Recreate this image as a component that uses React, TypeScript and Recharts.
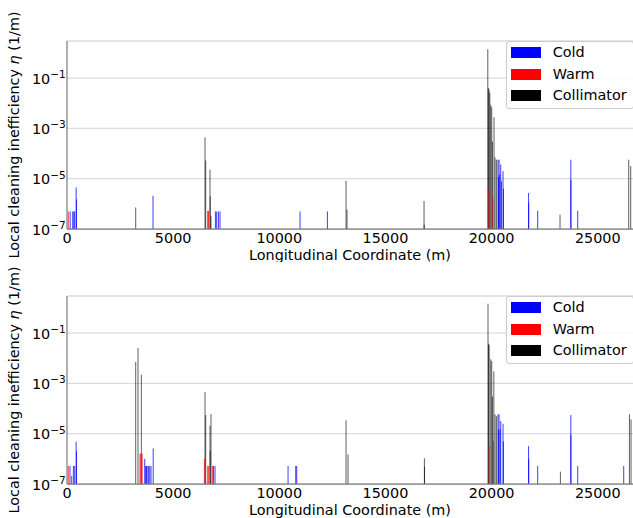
import React from 'react';
import {
  ComposedChart,
  Scatter,
  ErrorBar,
  XAxis,
  YAxis,
  CartesianGrid,
  Legend,
  Label,
} from 'recharts';

const FONT = '"DejaVu Sans", sans-serif';
const FS = 14.4;
const FRAME = '#808080';
const GRID = '#dcdcdc';

const LHC = 26659;
const Y_MIN = 1e-7;
const Y_MAX = 3;

const xTicks = [0, 5000, 10000, 15000, 20000, 25000];
const yTicks = [1e-7, 1e-5, 1e-3, 1e-1];

type Pt = { s: number; v: number };

// ---- Reference HL-LHC ----
const refCold: Pt[] = [
  { s: 150, v: 5e-7 }, { s: 270, v: 5e-7 }, { s: 320, v: 5e-7 }, { s: 360, v: 5e-7 },
  { s: 430, v: 4.5e-6 }, { s: 450, v: 1.5e-6 },
  { s: 4052, v: 2.1e-6 },
  { s: 6990, v: 5e-7 }, { s: 7051, v: 5e-7 }, { s: 7131, v: 5e-7 }, { s: 7207, v: 5e-7 },
  { s: 10977, v: 5e-7 }, { s: 12265, v: 5e-7 },
  { s: 20301, v: 5.7e-5 }, { s: 20325, v: 1.2e-5 }, { s: 20349, v: 5.7e-5 }, { s: 20380, v: 1.5e-5 },
  { s: 20429, v: 3.7e-5 }, { s: 20462, v: 8e-6 }, { s: 20537, v: 2e-5 }, { s: 20560, v: 4e-6 },
  { s: 21740, v: 2.7e-6 }, { s: 21747, v: 1.1e-6 }, { s: 22170, v: 5.3e-7 },
  { s: 23730, v: 5.7e-5 }, { s: 23737, v: 9e-6 }, { s: 24055, v: 5.3e-7 },
];

const refWarm: Pt[] = [
  { s: 60, v: 5e-7 }, { s: 6627, v: 5.3e-7 }, { s: 6665, v: 5.3e-7 },
  { s: 19872, v: 4.5e-6 }, { s: 20060, v: 1.8e-6 },
];

const refColl: Pt[] = [
  { s: 3236, v: 7.2e-7 },
  { s: 6500, v: 4.4e-4 }, { s: 6533, v: 5.3e-5 }, { s: 6736, v: 2.3e-5 }, { s: 6745, v: 2e-6 }, { s: 6783, v: 3.2e-7 },
  { s: 13143, v: 8.3e-6 }, { s: 13190, v: 5.9e-7 },
  { s: 16817, v: 1.3e-6 }, { s: 16825, v: 1.5e-7 },
  { s: 19820, v: 1.42 }, { s: 19849, v: 0.041 }, { s: 19880, v: 0.035 }, { s: 19915, v: 0.026 },
  { s: 19958, v: 8.7e-3 }, { s: 20005, v: 7e-3 }, { s: 20040, v: 3e-4 }, { s: 20113, v: 2.8e-3 },
  { s: 20160, v: 7e-5 }, { s: 20226, v: 5.7e-5 },
  { s: 23222, v: 3.7e-7 },
  { s: 26458, v: 5.7e-5 }, { s: 26552, v: 3.2e-5 },
];

// ---- ALICE-FT HL-LHC s_cry=3217m ----
const aliceCold: Pt[] = [
  { s: 141, v: 5.2e-7 }, { s: 301, v: 5.2e-7 }, { s: 363, v: 5.2e-7 }, { s: 430, v: 4.8e-6 }, { s: 450, v: 2e-6 },
  { s: 3660, v: 1e-6 }, { s: 3707, v: 5.2e-7 }, { s: 3740, v: 5.2e-7 }, { s: 3770, v: 5.2e-7 },
  { s: 3834, v: 5.2e-7 }, { s: 3896, v: 5.2e-7 }, { s: 3957, v: 5.2e-7 }, { s: 4060, v: 2.6e-6 },
  { s: 6896, v: 5.2e-7 }, { s: 6971, v: 5.2e-7 },
  { s: 10412, v: 5.2e-7 }, { s: 10773, v: 5.2e-7 }, { s: 10820, v: 5.2e-7 },
  { s: 20301, v: 5.9e-5 }, { s: 20325, v: 1.5e-5 }, { s: 20349, v: 5.9e-5 }, { s: 20400, v: 1.5e-5 },
  { s: 20429, v: 3.2e-5 }, { s: 20537, v: 2.5e-5 }, { s: 20555, v: 5e-6 },
  { s: 21740, v: 3.2e-6 }, { s: 21747, v: 1e-6 }, { s: 22170, v: 5.2e-7 },
  { s: 23730, v: 5.5e-5 }, { s: 23737, v: 9e-6 }, { s: 24055, v: 5.2e-7 }, { s: 26222, v: 5.2e-7 },
];

const aliceWarm: Pt[] = [
  { s: 60, v: 5.2e-7 }, { s: 3440, v: 1.6e-6 }, { s: 3480, v: 1.6e-6 }, { s: 3540, v: 1.6e-6 },
  { s: 6470, v: 1e-6 }, { s: 6627, v: 5.2e-7 }, { s: 6675, v: 5.2e-7 }, { s: 6860, v: 5.2e-7 },
  { s: 19880, v: 3.2e-6 }, { s: 20085, v: 5.1e-6 },
];

const aliceColl: Pt[] = [
  { s: 221, v: 2.1e-7 },
  { s: 3236, v: 7.2e-3 }, { s: 3345, v: 0.026 }, { s: 3503, v: 2.2e-3 },
  { s: 6500, v: 4.6e-4 }, { s: 6533, v: 5.5e-5 }, { s: 6736, v: 2.1e-5 }, { s: 6745, v: 2.1e-6 }, { s: 6783, v: 6.1e-5 },
  { s: 13143, v: 3.4e-5 }, { s: 13237, v: 1.5e-6 },
  { s: 16834, v: 1.05e-6 }, { s: 16840, v: 4.8e-7 },
  { s: 19830, v: 1.48 }, { s: 19855, v: 0.038 }, { s: 19885, v: 0.034 }, { s: 19958, v: 9.1e-3 },
  { s: 20005, v: 7.7e-3 }, { s: 20040, v: 3e-4 }, { s: 20105, v: 3e-3 }, { s: 20160, v: 5.9e-5 }, { s: 20226, v: 5e-5 },
  { s: 23240, v: 3.1e-7 },
  { s: 26491, v: 5.9e-5 }, { s: 26567, v: 3.7e-5 },
];

const legendItems = [
  { label: 'Cold', color: '#0000ff' },
  { label: 'Warm', color: '#ff0000' },
  { label: 'Collimator', color: '#000000' },
];

const withErr = (arr: Pt[]) => arr.map((p) => ({ ...p, err: [p.v - Y_MIN, 0] }));

const NoDot = () => <g />;

const YTick = (props: any) => {
  const { x, y, payload } = props;
  const exp = Math.round(Math.log10(payload.value));
  return (
    <text x={x} y={y} textAnchor="end" fontFamily={FONT} fontSize={FS} fill="#000">
      <tspan dy={5.5}>10</tspan>
      <tspan dy={-5.5} fontSize={10.5}>{'\u2212' + Math.abs(exp)}</tspan>
    </text>
  );
};

const YLabel = (props: any) => {
  const vb = props.viewBox || { x: 0, y: 41, width: 67, height: 188 };
  const cx = vb.x + 18.5;
  const cy = vb.y + vb.height / 2;
  return (
    <text
      transform={`translate(${cx},${cy}) rotate(-90)`}
      textAnchor="middle"
      fontFamily={FONT}
      fontSize={FS}
      fill="#000"
    >
      Local cleaning inefficiency <tspan fontStyle="italic">η</tspan> (1/m)
    </text>
  );
};

const makeXLabel = (dy: number) => (props: any) => {
  const vb = props.viewBox || { x: 67, y: 229, width: 566, height: 33 };
  return (
    <text x={vb.x + vb.width / 2} y={vb.y + dy} textAnchor="middle" fontFamily={FONT} fontSize={FS} fill="#000">
      Longitudinal Coordinate (m)
    </text>
  );
};

const makeTitle = (title: string) => (props: any) => {
  const vb = props.viewBox || { x: 67, y: 41, width: 566, height: 0 };
  return (
    <text x={vb.x + vb.width / 2} y={vb.y - 3.2} textAnchor="middle" fontFamily={FONT} fontSize={FS} fill="#000">
      {title}
    </text>
  );
};

const LegendBox = () => (
  <div
    style={{
      position: 'relative',
      width: 128,
      height: 68,
      boxSizing: 'border-box',
      border: '1px solid #cccccc',
      borderRadius: 3,
      background: 'rgba(255,255,255,0.8)',
      fontFamily: FONT,
      fontSize: FS,
      color: '#000',
    }}
  >
    {legendItems.map((it, i) => (
      <React.Fragment key={it.label}>
        <div
          style={{
            position: 'absolute',
            left: 4,
            top: 5.3 + i * 21.5,
            width: 30.6,
            height: 11,
            background: it.color,
          }}
        />
        <div
          style={{
            position: 'absolute',
            left: 46,
            top: 5.3 + i * 21.5,
            height: 11,
            lineHeight: '11px',
            whiteSpace: 'nowrap',
          }}
        >
          {it.label}
        </div>
      </React.Fragment>
    ))}
  </div>
);

type MapProps = {
  title: string;
  cold: Pt[];
  warm: Pt[];
  coll: Pt[];
  height: number;
  plotH: number;
  tickGap: number;
  labelDy: number;
};

const LossMap = ({ title, cold, warm, coll, height, plotH, tickGap, labelDy }: MapProps) => {
  const series = [
    { key: 'coll', data: coll, stroke: 'rgba(0,0,0,0.7)' },
    { key: 'cold', data: cold, stroke: 'rgba(0,0,255,0.85)' },
    { key: 'warm', data: warm, stroke: 'rgba(255,0,0,0.85)' },
  ];
  return (
    <ComposedChart width={633} height={height} margin={{ top: 41, right: 0, bottom: 0, left: 0 }}>
      <CartesianGrid vertical={false} stroke={GRID} strokeWidth={1.3} />
      <XAxis
        dataKey="s"
        type="number"
        domain={[0, LHC]}
        allowDataOverflow
        ticks={xTicks}
        interval={0}
        height={height - 41 - plotH}
        tickSize={tickGap}
        tickMargin={2}
        tickLine={false}
        axisLine={{ stroke: FRAME, strokeWidth: 1.25 }}
        tick={{ fontSize: FS, fontFamily: FONT, fill: '#000' }}
      >
        <Label content={makeXLabel(labelDy)} />
      </XAxis>
      <XAxis
        xAxisId="top"
        orientation="top"
        type="number"
        domain={[0, LHC]}
        allowDataOverflow
        height={0}
        tick={false}
        tickLine={false}
        axisLine={{ stroke: FRAME, strokeWidth: 1.25 }}
      >
        <Label content={makeTitle(title)} />
      </XAxis>
      <YAxis
        dataKey="v"
        type="number"
        scale="log"
        domain={[Y_MIN, Y_MAX]}
        allowDataOverflow
        ticks={yTicks}
        interval={0}
        width={67}
        tickSize={0}
        tickMargin={1.3}
        tickLine={false}
        axisLine={{ stroke: FRAME, strokeWidth: 1.25 }}
        tick={<YTick />}
      >
        <Label content={YLabel} />
      </YAxis>
      <Legend
        content={<LegendBox />}
        layout="vertical"
        align="center"
        verticalAlign="middle"
        wrapperStyle={{ left: 505.7, top: 41, width: 128, height: 68 }}
      />
      {series.map((sr) => (
        <Scatter
          key={sr.key}
          data={withErr(sr.data)}
          dataKey="v"
          shape={NoDot}
          legendType="none"
          isAnimationActive={false}
        >
          <ErrorBar
            dataKey="err"
            direction="y"
            width={0}
            stroke={sr.stroke}
            strokeWidth={0.9}
            isAnimationActive={false}
          />
        </Scatter>
      ))}
    </ComposedChart>
  );
};

export default function App() {
  return (
    <div style={{ position: 'absolute', left: 0, top: 0, width: 633, height: 518, background: '#fff' }}>
      <div style={{ position: 'absolute', left: 0, top: 0 }}>
        <LossMap
          title="Reference HL-LHC"
          cold={refCold}
          warm={refWarm}
          coll={refColl}
          height={262}
          plotH={188}
          tickGap={2}
          labelDy={31}
        />
      </div>
      <div style={{ position: 'absolute', left: 0, top: 255 }}>
        <LossMap
          title="ALICE-FT HL-LHC s_cry=3217m"
          cold={aliceCold}
          warm={aliceWarm}
          coll={aliceColl}
          height={263}
          plotH={188}
          tickGap={1.5}
          labelDy={30.5}
        />
      </div>
    </div>
  );
}
